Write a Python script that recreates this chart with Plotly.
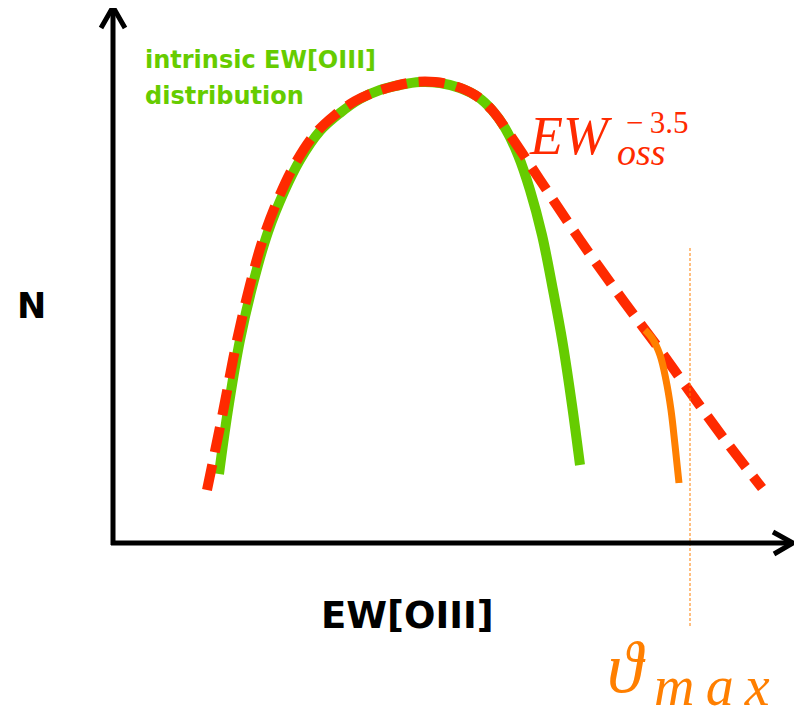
import plotly.graph_objects as go

# Schematic curves (x = EW position, y = N position in figure units, y grows downward)
green_x = [219, 228, 240, 254, 268, 284, 300, 320, 340, 360, 380, 400, 420, 440, 460, 478, 492, 505, 518, 530, 542, 553, 563, 572, 580]
green_y = [474, 410, 340, 280, 232, 192, 160, 131, 113, 99, 90, 85, 82, 83, 88, 97, 110, 128, 155, 190, 235, 290, 345, 405, 465]

red_x = [207, 223, 236, 250, 264, 279, 295, 315, 335, 355, 375, 395, 415, 435, 455, 475, 492, 510, 540, 580, 625, 660, 690, 725, 762]
red_y = [490, 412, 345, 285, 236, 197, 164, 134, 115, 101, 92, 86, 82, 82, 86, 95, 110, 135, 180, 240, 303, 350, 392, 440, 488]

orange_x = [645, 652, 660, 666, 671, 675, 679]
orange_y = [330, 338, 355, 380, 410, 445, 483]

vline_x = [690, 690]
vline_y = [248, 628]

GREEN = "#66cc00"
RED = "#ff2a00"
ORANGE = "#ff7f00"

fig = go.Figure()
fig.add_trace(go.Scatter(x=green_x, y=green_y, mode="lines", line=dict(color=GREEN, width=10, shape="spline"), hoverinfo="skip"))
fig.add_trace(go.Scatter(x=red_x, y=red_y, mode="lines", line=dict(color=RED, width=10, shape="spline", dash="26px,12px"), hoverinfo="skip"))
fig.add_trace(go.Scatter(x=orange_x, y=orange_y, mode="lines", line=dict(color=ORANGE, width=7, shape="spline"), hoverinfo="skip"))
fig.add_trace(go.Scatter(x=vline_x, y=vline_y, mode="lines", line=dict(color=ORANGE, width=1, dash="3px,2px"), hoverinfo="skip"))

# Axes arrows
ax_style = dict(color="black", width=5)
fig.add_shape(type="line", x0=113, y0=545, x1=113, y1=8, line=ax_style)
fig.add_shape(type="path", path="M 101 28 L 113 7 L 125 28", line=ax_style)
fig.add_shape(type="line", x0=111, y0=543, x1=791, y1=543, line=ax_style)
fig.add_shape(type="path", path="M 773 532 L 793 543 L 774 554", line=ax_style)

bold = "DejaVu Sans"
ann = []
ann.append(dict(x=143, y=76, text="<b>intrinsic EW[OIII]</b>", font=dict(family=bold, size=24, color=GREEN), xanchor="left", yanchor="bottom"))
ann.append(dict(x=143, y=112, text="<b>distribution</b>", font=dict(family=bold, size=24, color=GREEN), xanchor="left", yanchor="bottom"))
ann.append(dict(x=31, y=306, text="<b>N</b>", font=dict(family=bold, size=35, color="black"), xanchor="center", yanchor="middle"))
ann.append(dict(x=407, y=615, text="<b>EW[OIII]</b>", font=dict(family=bold, size=37, color="black"), xanchor="center", yanchor="middle"))

serif = "Liberation Serif"
ann.append(dict(x=527, y=136, text="<i>EW</i>", font=dict(family=serif, size=54, color=RED), xanchor="left", yanchor="middle"))
ann.append(dict(x=624, y=122, text="−\u20093.5", font=dict(family=serif, size=31, color=RED), xanchor="left", yanchor="middle"))
ann.append(dict(x=615, y=152, text="<i>oss</i>", font=dict(family=serif, size=38, color=RED), xanchor="left", yanchor="middle"))
ann.append(dict(x=605, y=668, text="<i>ϑ</i>", font=dict(family=serif, size=72, color=ORANGE), xanchor="left", yanchor="middle"))
ann.append(dict(x=652, y=686, text="<i>m\u2009a\u2009x</i>", font=dict(family=serif, size=56, color=ORANGE), xanchor="left", yanchor="middle"))
for a in ann:
    a.update(showarrow=False, xref="x", yref="y")
fig.update_layout(annotations=ann)

# The page body has an 8px margin, so the figure is 8px smaller and its ranges start at 8
fig.update_layout(
    width=794, height=703,
    margin=dict(l=0, r=0, t=0, b=0),
    paper_bgcolor="white", plot_bgcolor="white",
    showlegend=False,
    xaxis=dict(range=[8, 802], visible=False, fixedrange=True),
    yaxis=dict(range=[711, 8], visible=False, fixedrange=True),
)

fig.write_html("out.html")
